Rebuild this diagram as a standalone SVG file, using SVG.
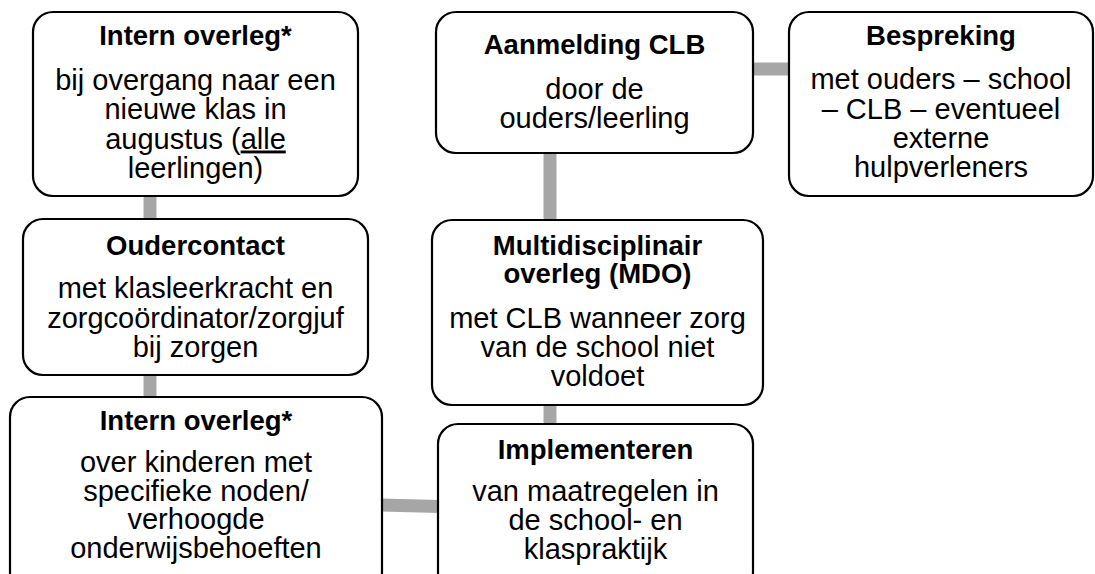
<svg xmlns="http://www.w3.org/2000/svg" width="1095" height="574" viewBox="0 0 1095 574">
<style>
.box{fill:#fff;stroke:#000;stroke-width:2.2}
.c{stroke:#a6a6a6;stroke-width:13;fill:none}
text{font-family:"Liberation Sans",Arial,sans-serif;font-size:29px;fill:#000;text-anchor:middle}
.t{font-weight:bold;font-size:27.5px}
</style>
<rect width="1095" height="574" fill="#fff"/>
<g id="connectors">
<line class="c" x1="150" y1="196" x2="150" y2="220"/>
<line class="c" x1="150" y1="375" x2="150" y2="398"/>
<line class="c" x1="550" y1="153" x2="550" y2="221"/>
<line class="c" x1="550" y1="405" x2="550" y2="425"/>
<line class="c" x1="752" y1="69" x2="789" y2="69"/>
<line class="c" x1="381" y1="505" x2="439" y2="506.5"/>
</g>
<g id="intern-overleg-1">
<rect class="box" x="33" y="12" width="325" height="184" rx="20"/>
<text class="t" x="195.5" y="45">Intern overleg*</text>
<text x="195.5" y="89.5">bij overgang naar een</text>
<text x="195.5" y="119">nieuwe klas in</text>
<text x="195.5" y="148.5">augustus (<tspan text-decoration="underline">alle</tspan></text>
<text x="195.5" y="178">leerlingen)</text>
</g>
<g id="oudercontact">
<rect class="box" x="23" y="219" width="345" height="156" rx="20"/>
<text class="t" x="195.5" y="255">Oudercontact</text>
<text x="195.5" y="298">met klasleerkracht en</text>
<text x="195.5" y="327.5">zorgcoördinator/zorgjuf</text>
<text x="195.5" y="357">bij zorgen</text>
</g>
<g id="intern-overleg-2">
<rect class="box" x="10" y="397" width="372" height="195" rx="20"/>
<text class="t" x="196" y="430">Intern overleg*</text>
<text x="196" y="472">over kinderen met</text>
<text x="196" y="500.5">specifieke noden/</text>
<text x="196" y="529">verhoogde</text>
<text x="196" y="557.5">onderwijsbehoeften</text>
</g>
<g id="aanmelding-clb">
<rect class="box" x="436" y="12" width="317" height="141" rx="20"/>
<text class="t" x="594.5" y="54">Aanmelding CLB</text>
<text x="594.5" y="99">door de</text>
<text x="594.5" y="128">ouders/leerling</text>
</g>
<g id="bespreking">
<rect class="box" x="789" y="12" width="304" height="184" rx="20"/>
<text class="t" x="941" y="45">Bespreking</text>
<text x="941" y="89">met ouders – school</text>
<text x="941" y="118.5">– CLB – eventueel</text>
<text x="941" y="148">externe</text>
<text x="941" y="177">hulpverleners</text>
</g>
<g id="mdo">
<rect class="box" x="432" y="220" width="331" height="185" rx="20"/>
<text class="t" x="597.5" y="255">Multidisciplinair</text>
<text class="t" x="597.5" y="282.5">overleg (MDO)</text>
<text x="597.5" y="328">met CLB wanneer zorg</text>
<text x="597.5" y="357">van de school niet</text>
<text x="597.5" y="385.5">voldoet</text>
</g>
<g id="implementeren">
<rect class="box" x="438" y="424" width="315" height="168" rx="20"/>
<text class="t" x="595.5" y="459">Implementeren</text>
<text x="595.5" y="501">van maatregelen in</text>
<text x="595.5" y="530">de school- en</text>
<text x="595.5" y="558.5">klaspraktijk</text>
</g>
</svg>
